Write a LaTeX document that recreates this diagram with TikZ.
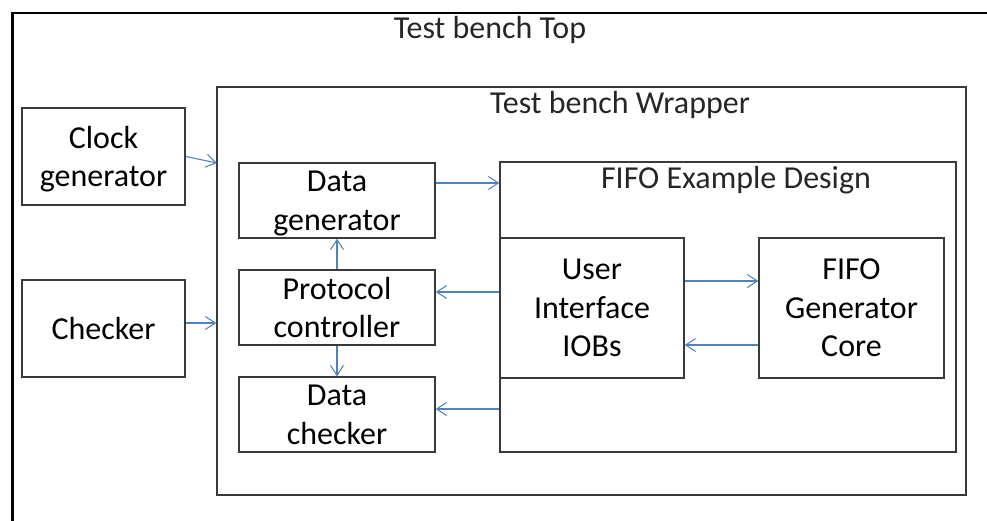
\documentclass[tikz,border=0pt]{standalone}
\usepackage{fontspec}
\setmainfont{Carlito}
\usetikzlibrary{arrows.meta,calc,positioning}
\definecolor{linkBlue}{HTML}{4F81BD}
\definecolor{boxGray}{HTML}{3A3A3A}

\begin{document}
\begin{tikzpicture}[
  font=\fontsize{18.2}{21.9}\selectfont,
  block/.style={draw=boxGray, line width=0.8pt, fill=white, align=center, inner sep=0pt, text depth=0pt},
  frame/.style={draw=boxGray, line width=0.8pt, inner sep=0pt},
  title/.style={anchor=base, text=black!85},
  link/.style={-{Straight Barb[length=2mm, width=2.6mm]}, line width=0.6pt, draw=linkBlue}
]
\useasboundingbox (0,0) rectangle (19.74,-10.42);
\clip (0,0) rectangle (19.74,-10.42);

% outer test bench, only left and top edges fall on the page
\draw[line width=1.7pt, draw=black] (0.25,-11) -- (0.25,-0.26) -- (20.6,-0.26);
\node[title] (toptitle) at (9.80,-0.78) {Test bench Top};

\node[block, minimum width=3.26cm, minimum height=1.94cm] (clock) at (2.07,-3.13) {Clock\\generator};
\node[block, minimum width=3.26cm, minimum height=1.94cm] (checker) at (2.07,-6.57) {Checker};

\node[frame, minimum width=14.98cm, minimum height=8.16cm] (wrapper) at (11.83,-5.82) {};
\node[title] (wraptitle) at (12.40,-2.26) {Test bench Wrapper};

\node[block, minimum width=3.92cm, minimum height=1.50cm] (datagen) at (6.74,-4.01) {Data\\generator};
\node[block, minimum width=3.92cm, minimum height=1.50cm] (protocol) at (6.74,-6.15) {Protocol\\controller};
\node[block, minimum width=3.92cm, minimum height=1.50cm] (datachk) at (6.74,-8.29) {Data\\checker};

\node[frame, minimum width=9.12cm, minimum height=5.80cm] (fifo) at (14.56,-6.14) {};
\node[title] (fifotitle) at (14.72,-3.76) {FIFO Example Design};

\node[block, minimum width=3.68cm, minimum height=2.80cm] (ui) at (11.84,-6.16) {User\\Interface\\IOBs};
\node[block, minimum width=3.70cm, minimum height=2.80cm] (core) at (17.03,-6.16) {FIFO\\Generator\\Core};

\coordinate (clkin) at (4.34,-3.26);
\draw[link] (clock.east) -- (clkin);
\draw[link] ([yshift=0.11cm]checker.east) -- ([yshift=0.11cm]checker.east -| wrapper.west);

\draw[link] ([yshift=0.35cm]datagen.east) -- ([yshift=0.35cm]datagen.east -| fifo.west);
\draw[link] ([yshift=0.31cm]protocol.east -| fifo.west) -- ([yshift=0.31cm]protocol.east);
\draw[link] ([yshift=0.11cm]datachk.east -| fifo.west) -- ([yshift=0.11cm]datachk.east);
\draw[link] (protocol) -- (datagen);
\draw[link] (protocol) -- (datachk);

\draw[link] ([yshift=0.54cm]ui.east) -- ([yshift=0.54cm]ui.east -| core.west);
\draw[link] ([yshift=-0.74cm]core.west) -- ([yshift=-0.74cm]core.west -| ui.east);
\end{tikzpicture}
\end{document}
